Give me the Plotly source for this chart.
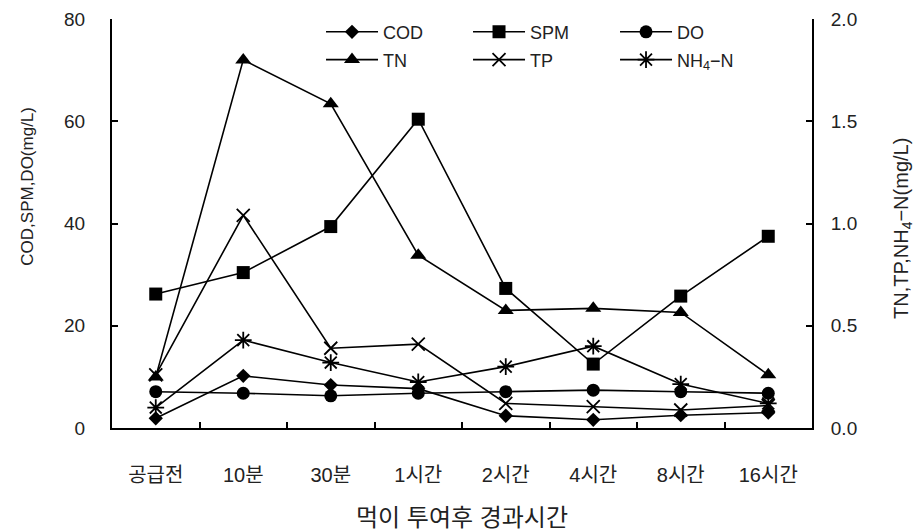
import plotly.graph_objects as go

categories = ["공급전", "10분", "30분", "1시간", "2시간", "4시간", "8시간", "16시간"]

# left axis (mg/L)
cod = [1.9, 10.2, 8.4, 7.7, 2.4, 1.6, 2.5, 3.0]
spm = [26.2, 30.4, 39.4, 60.4, 27.3, 12.5, 25.8, 37.5]
do_ = [7.1, 6.8, 6.3, 6.8, 7.1, 7.4, 7.1, 6.8]
# right axis (mg/L)
tn = [0.25, 1.80, 1.585, 0.845, 0.575, 0.585, 0.565, 0.26]
tp = [0.26, 1.04, 0.39, 0.41, 0.12, 0.105, 0.088, 0.11]
nh4 = [0.10, 0.43, 0.32, 0.225, 0.30, 0.40, 0.215, 0.12]

left_ticks = [0, 20, 40, 60, 80]
right_ticks = [0.0, 0.5, 1.0, 1.5, 2.0]

FONT = "Liberation Sans, Noto Sans CJK KR, sans-serif"
LW = 1.6

fig = go.Figure()

def add(name, y, symbol, size, axis, legend, mline=0):
    fig.add_trace(go.Scatter(
        x=categories, y=y, name=name, mode="lines+markers",
        yaxis=axis, legend=legend,
        line=dict(color="black", width=LW),
        marker=dict(symbol=symbol, size=size, color="black",
                    line=dict(color="black", width=mline)),
    ))

add("COD", cod, "diamond", 11, "y", "legend")
add("SPM", spm, "square", 13, "y", "legend")
add("DO", do_, "circle", 13, "y", "legend")
add("TN", tn, "triangle-up", 14, "y2", "legend2")
add("TP", tp, "x-thin-open", 13, "y2", "legend2", mline=1.8)
add("NH<sub>4</sub>−N", nh4, "asterisk-open", 14, "y2", "legend2", mline=1.8)

axis_common = dict(
    showgrid=False, zeroline=False, showline=True, linecolor="black",
    linewidth=2, ticks="inside", ticklen=6, tickwidth=2, tickcolor="black",
    tickfont=dict(family=FONT, size=19, color="#222"),
)

legend_common = dict(
    orientation="h", xanchor="left", yanchor="middle",
    entrywidth=80, entrywidthmode="pixels", itemwidth=52,
    font=dict(family=FONT, size=18, color="#222"), bgcolor="rgba(0,0,0,0)",
    tracegroupgap=0,
)

fig.update_layout(
    width=917, height=531,
    margin=dict(l=112, r=105, t=19, b=103, autoexpand=False),
    paper_bgcolor="white", plot_bgcolor="white",
    font=dict(family=FONT, color="#222"),
    showlegend=True,
    xaxis=dict(
        **{**axis_common, "tickfont": dict(family=FONT, size=20, color="#222")},
        type="category", range=[-0.5, 7.5], tickson="boundaries",
        ticklabelstandoff=28,
        title=dict(text="먹이 투여후 경과시간", font=dict(family=FONT, size=24), standoff=29),
    ),
    yaxis=dict(
        **axis_common, range=[0, 80], tickvals=left_ticks,
        ticklabelstandoff=21,
    ),
    yaxis2=dict(
        **axis_common, range=[0, 2], tickvals=right_ticks, tickformat=".1f",
        overlaying="y", side="right", anchor="x", ticklabelstandoff=13,
    ),
    legend=dict(**legend_common, x=0.2986, y=0.968),
    legend2=dict(**legend_common, x=0.2986, y=0.90),
    annotations=[
        dict(text="COD,SPM,DO(mg/L)", xref="paper", yref="paper",
             x=-0.12, y=0.59, xanchor="center", yanchor="middle",
             textangle=-90, showarrow=False, font=dict(family=FONT, size=17)),
        dict(text="TN,TP,NH<sub>4</sub>−N(mg/L)", xref="paper", yref="paper",
             x=1.13, y=0.489, xanchor="center", yanchor="middle",
             textangle=-90, showarrow=False, font=dict(family=FONT, size=20)),
    ],
)

fig.write_html(
    "out.html",
    config={"displayModeBar": False},
    post_script="document.body.style.margin='0';document.body.style.overflow='hidden';",
)
